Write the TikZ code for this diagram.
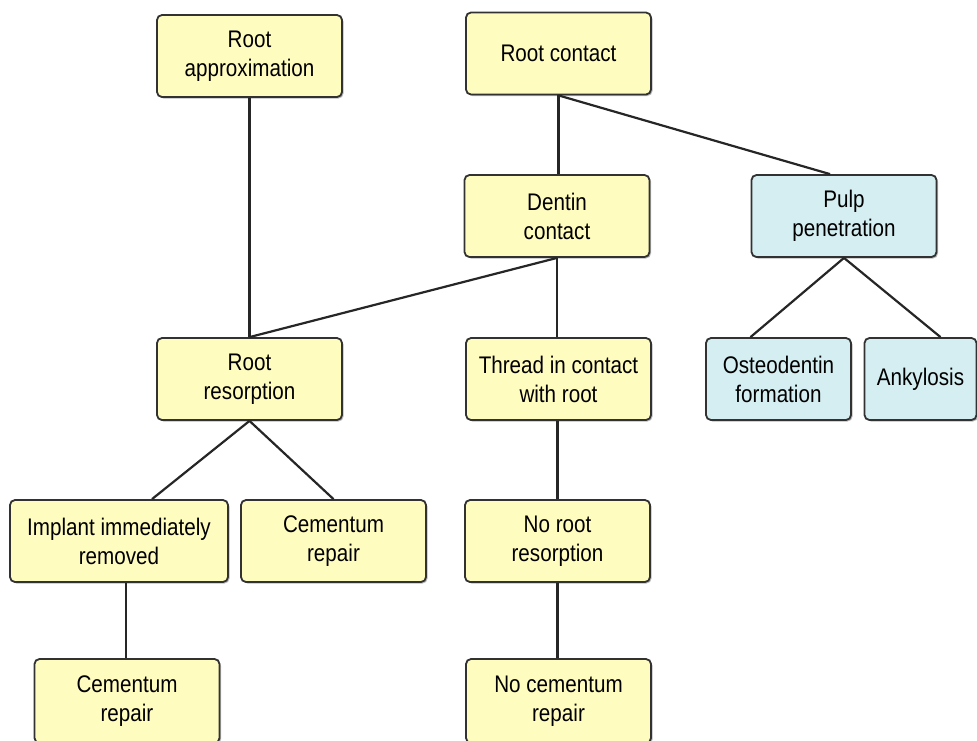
\documentclass[tikz,border=0pt]{standalone}
\usepackage{fontspec}
\setmainfont[FakeStretch=0.86]{Liberation Sans}
\usetikzlibrary{shadows,calc}
\definecolor{boxyellow}{RGB}{255,252,192}
\definecolor{boxblue}{RGB}{212,238,241}
\definecolor{boxline}{RGB}{50,50,50}
\tikzset{
  box/.style={draw=boxline, line width=1.8pt, rounded corners=5pt, fill=boxyellow,
    minimum width=185pt, minimum height=82pt, align=center, inner sep=2pt,
    font=\fontsize{24}{29}\selectfont,
    drop shadow={shadow xshift=1.5pt, shadow yshift=-1.5pt, fill=gray!70, opacity=0.8}},
  bluebox/.style={box, fill=boxblue},
  link/.style={line width=2.2pt, draw=black!85}
}
\begin{document}
\begin{tikzpicture}[x=1pt,y=-1pt]
\useasboundingbox (0,0) rectangle (977,740);
\node[box] (ra) at (249.5,56) {Root\\approximation};
\node[box] (rc) at (558.5,53.5) {Root contact};
\node[box] (dc) at (557,216) {Dentin\\contact};
\node[bluebox] (pp) at (844,216) {Pulp\\penetration};
\node[box] (rr) at (249.5,379) {Root\\resorption};
\node[box] (tc) at (558.5,379) {Thread in contact\\with root};
\node[bluebox, minimum width=145pt] (of) at (778.5,379) {Osteodentin\\formation};
\node[bluebox, minimum width=112pt] (an) at (920.5,379) {Ankylosis};
\node[box, minimum width=218pt] (ir) at (119,541) {Implant immediately\\removed};
\node[box] (cr) at (333.5,541) {Cementum\\repair};
\node[box] (nr) at (557.5,541) {No root\\resorption};
\node[box, minimum height=84pt] (cb) at (127,701) {Cementum\\repair};
\node[box, minimum height=84pt] (nc) at (558.5,701) {No cementum\\repair};

\draw[link] (ra.south) -- (rr.north);
\draw[link] (rc.south) -- (rc.south |- dc.north);
\draw[link] (rc.south) -- ([xshift=-14pt]pp.north);
\draw[link] (dc.south) -- (rr.north);
\draw[link] (dc.south) -- (dc.south |- tc.north);
\draw[link] (pp.south) -- ([xshift=-28pt]of.north);
\draw[link] (pp.south) -- ([xshift=20pt]an.north);
\draw[link] (rr.south) -- ([xshift=33pt]ir.north);
\draw[link] (rr.south) -- (cr.north);
\draw[link] ([xshift=-1pt]cb.north |- ir.south) -- ([xshift=-1pt]cb.north);
\draw[link] (tc.south -| nr.north) -- (nr.north);
\draw[link] (nr.south) -- (nr.south |- nc.north);
\end{tikzpicture}
\end{document}
